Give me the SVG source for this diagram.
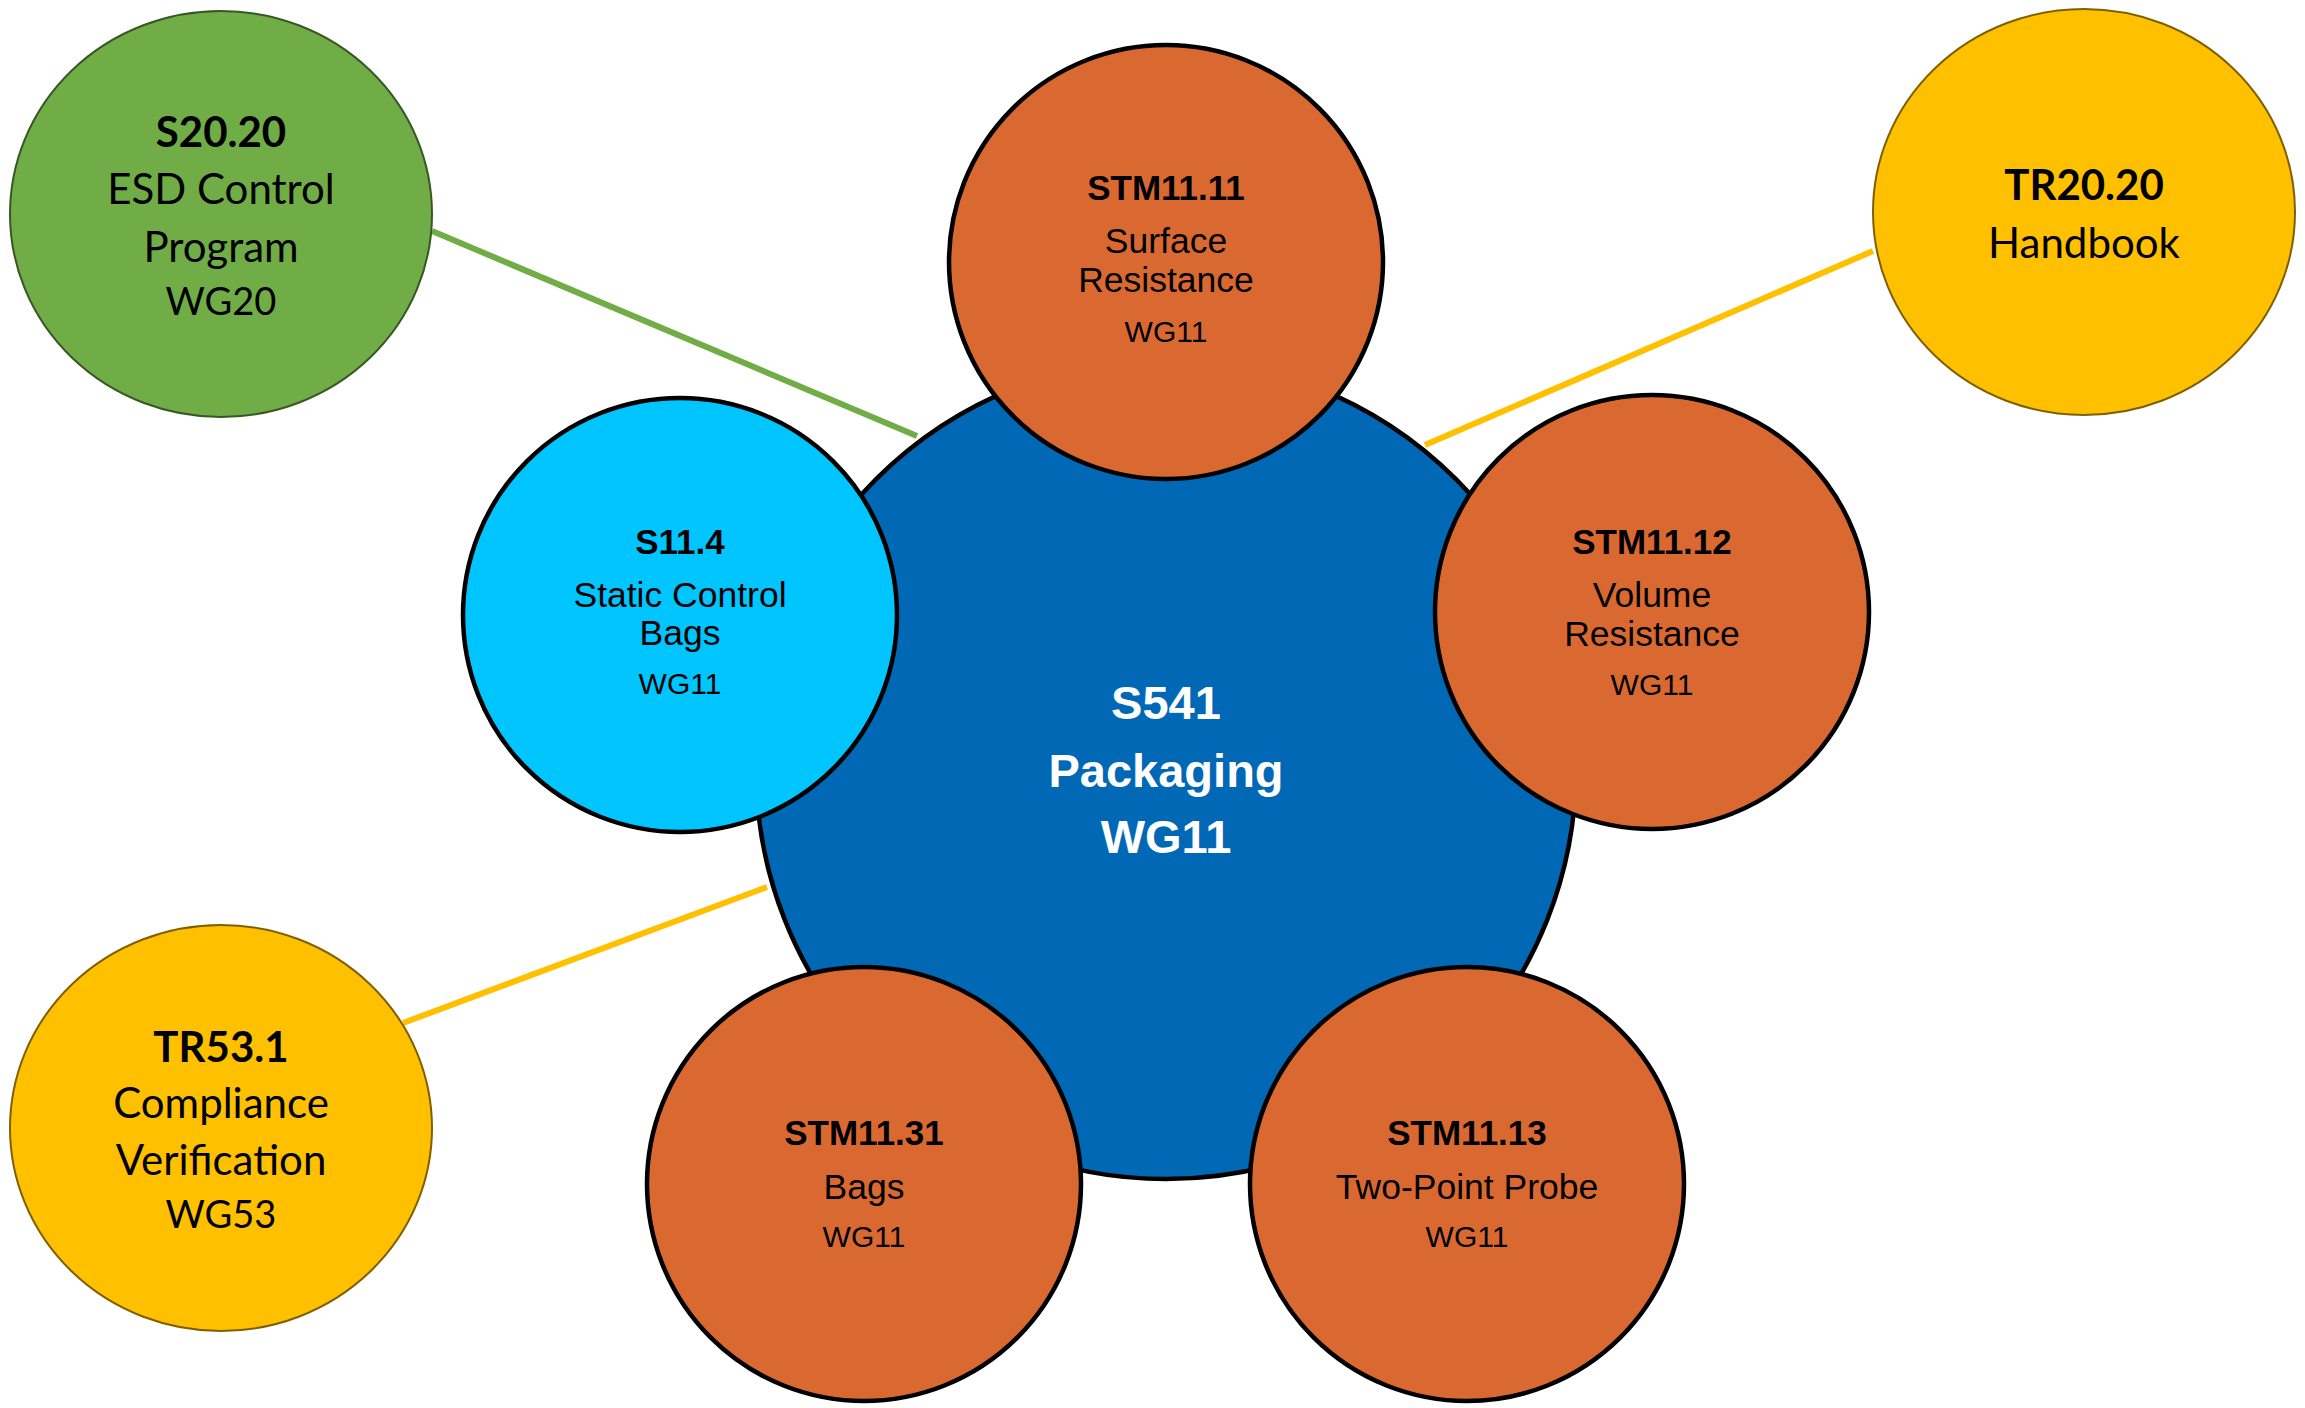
<svg xmlns="http://www.w3.org/2000/svg" width="2305" height="1408" viewBox="0 0 2305 1408">
<style>
.ring{stroke:#000;stroke-width:4.5}
.ext{stroke-width:2}
.a{font-family:"Liberation Sans",Arial,sans-serif;text-anchor:middle;fill:#000}
.c{font-family:Lato,"Open Sans",sans-serif;text-anchor:middle;fill:#000;font-size:42px}
.cw{font-size:38px}
.t{font-weight:bold;font-size:35px}
.b{font-size:35.5px}
.w{font-size:30px}
.cb{font-weight:bold}
.m{font-family:"Liberation Sans",Arial,sans-serif;text-anchor:middle;fill:#fff;font-weight:bold;font-size:47px}
</style>
<rect width="2305" height="1408" fill="#fff"/>
<g id="connectors" stroke-width="6" fill="none">
<line x1="432" y1="231" x2="917" y2="436" stroke="#70AD47"/>
<line x1="1425" y1="445" x2="1873" y2="251" stroke="#FFC000"/>
<line x1="403" y1="1023" x2="767" y2="887" stroke="#FFC000"/>
</g>
<g id="s2020">
<ellipse cx="221" cy="214" rx="211" ry="203" fill="#70AD47" stroke="#385723" class="ext"/>
<text class="c cb" x="221" y="147">S20.20</text>
<text class="c" x="221" y="204">ESD Control</text>
<text class="c" x="221" y="262">Program</text>
<text class="c cw" x="221" y="315">WG20</text>
</g>
<g id="tr2020">
<ellipse cx="2084" cy="212" rx="211" ry="203" fill="#FFC000" stroke="#7F6000" class="ext"/>
<text class="c cb" x="2084" y="200">TR20.20</text>
<text class="c" x="2084" y="258">Handbook</text>
</g>
<g id="tr531">
<ellipse cx="221" cy="1128" rx="211" ry="203" fill="#FFC000" stroke="#7F6000" class="ext"/>
<text class="c cb" x="221" y="1062">TR53.1</text>
<text class="c" x="221" y="1118">Compliance</text>
<text class="c" x="221" y="1175">Verification</text>
<text class="c cw" x="221" y="1228">WG53</text>
</g>
<g id="s541">
<circle cx="1166" cy="769" r="410" fill="#0068B5" class="ring"/>
<text class="m" x="1166" y="719">S541</text>
<text class="m" x="1166" y="787">Packaging</text>
<text class="m" x="1166" y="853">WG11</text>
</g>
<g id="stm1111">
<circle cx="1166" cy="262" r="217" fill="#DA6931" class="ring"/>
<text class="a t" x="1166" y="200">STM11.11</text>
<text class="a b" x="1166" y="253">Surface</text>
<text class="a b" x="1166" y="292">Resistance</text>
<text class="a w" x="1166" y="342">WG11</text>
</g>
<g id="s114">
<circle cx="680" cy="615" r="217" fill="#00C5FF" class="ring"/>
<text class="a t" x="680" y="554">S11.4</text>
<text class="a b" x="680" y="607">Static Control</text>
<text class="a b" x="680" y="645">Bags</text>
<text class="a w" x="680" y="694">WG11</text>
</g>
<g id="stm1112">
<circle cx="1652" cy="612" r="217" fill="#DA6931" class="ring"/>
<text class="a t" x="1652" y="554">STM11.12</text>
<text class="a b" x="1652" y="607">Volume</text>
<text class="a b" x="1652" y="646">Resistance</text>
<text class="a w" x="1652" y="695">WG11</text>
</g>
<g id="stm1131">
<circle cx="864" cy="1184" r="217" fill="#DA6931" class="ring"/>
<text class="a t" x="864" y="1145">STM11.31</text>
<text class="a b" x="864" y="1199">Bags</text>
<text class="a w" x="864" y="1247">WG11</text>
</g>
<g id="stm1113">
<circle cx="1467" cy="1184" r="217" fill="#DA6931" class="ring"/>
<text class="a t" x="1467" y="1145">STM11.13</text>
<text class="a b" x="1467" y="1199">Two-Point Probe</text>
<text class="a w" x="1467" y="1247">WG11</text>
</g>
</svg>
